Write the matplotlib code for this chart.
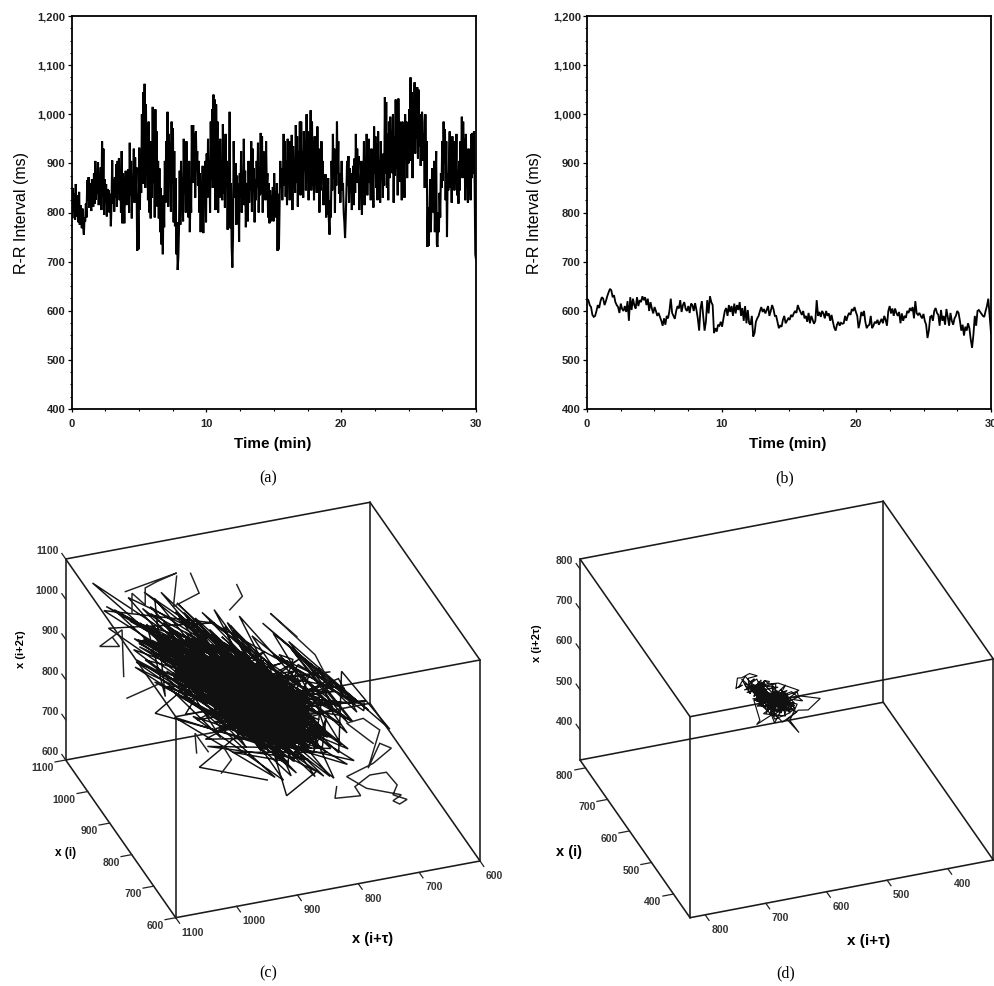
import numpy as np
import matplotlib
matplotlib.use("Agg")
import matplotlib.pyplot as plt
from matplotlib.ticker import MultipleLocator

plt.rcParams['font.family'] = ['Liberation Sans', 'DejaVu Sans']

# ---- data -----------------------------------------------------------------
rr_a = [
825,788,850,802,838,785,858,810,792,835,780,842,775,815,790,768,808,772,755,790,
782,818,790,866,825,872,810,860,835,803,868,830,812,880,818,905,826,872,838,902,
815,870,842,892,805,945,832,930,795,868,820,858,792,848,812,845,800,838,772,820,
906,818,868,802,872,830,898,812,905,838,910,825,885,800,925,778,880,832,778,850,
885,815,862,830,888,800,942,835,905,788,872,838,930,820,912,845,892,722,838,725,
932,806,890,840,1000,858,1045,905,1062,850,1020,880,960,825,985,800,905,788,945,830,
1015,860,975,790,1010,835,965,812,905,788,890,760,850,735,800,715,835,770,905,820,
945,860,1005,812,960,880,940,802,985,860,972,780,925,772,870,715,780,683,710,770,
885,775,905,810,848,782,950,838,920,800,945,825,880,790,905,760,850,800,978,860,
978,872,960,830,965,890,925,855,905,800,880,760,862,805,895,758,872,820,905,780,
920,830,950,845,905,800,985,868,1010,850,1040,880,1030,805,1020,895,985,800,945,830,
950,850,905,825,980,838,935,810,960,865,905,765,885,840,1005,768,860,730,688,750,
945,845,830,900,775,875,812,860,740,880,830,925,800,870,820,950,815,885,770,850,
860,782,905,820,885,845,945,802,930,862,890,780,868,825,905,850,942,800,880,835,
962,838,955,800,925,870,910,825,945,852,880,790,860,778,845,782,835,800,852,782,
880,805,840,790,860,722,838,725,812,905,850,890,825,870,960,855,945,832,905,815,
950,860,915,825,945,880,958,805,935,865,900,840,978,860,955,812,925,870,985,835,
985,860,925,830,965,885,945,845,1000,875,930,825,965,870,1008,845,985,855,945,825,
955,870,905,840,975,860,930,800,895,845,945,872,905,815,860,820,878,790,852,795,
870,785,755,825,790,905,845,960,870,930,800,925,855,985,880,945,838,880,820,860,
905,845,860,800,780,748,790,840,905,855,915,820,890,840,880,805,860,895,815,910,
840,960,860,930,880,915,805,870,835,905,795,890,850,945,815,880,840,960,835,925,
950,860,905,825,930,845,885,810,975,880,955,850,940,825,965,845,905,820,945,870,
905,830,920,855,1035,880,1025,850,960,825,985,870,995,905,965,880,1000,820,955,875,
1030,890,960,835,1032,915,985,862,940,825,985,890,950,830,1000,905,985,870,960,900,
1010,930,1075,905,1045,870,1030,950,1065,920,1040,950,1055,910,1050,935,1000,895,970,1005,
985,905,960,850,1000,880,945,730,810,732,790,868,760,820,890,870,800,905,760,850,
925,735,730,800,760,840,790,880,850,945,865,985,900,970,825,945,750,880,845,905,
965,850,905,820,955,860,945,845,930,870,960,835,885,818,905,845,945,880,995,870,
985,905,950,825,960,870,880,820,930,860,905,825,960,870,962,880,965,860,715,705,
]
rr_b = [
625,622,612,608,592,588,590,600,612,606,
620,628,625,612,620,630,638,645,642,628,
632,618,612,608,596,615,604,600,610,598,
620,580,628,602,625,612,605,628,610,622,
618,630,622,628,612,625,600,618,605,595,
608,600,590,596,588,580,570,585,572,590,
585,600,625,596,590,584,600,610,605,622,
598,612,618,604,600,610,596,615,612,600,
616,602,585,560,605,620,590,560,578,622,
595,630,618,612,555,565,558,572,570,578,
568,585,600,606,590,612,598,610,590,615,
595,612,602,618,590,606,580,610,575,602,
575,572,590,548,555,578,585,590,600,608,
598,604,595,602,610,590,600,612,604,590,
590,578,565,570,568,582,590,575,580,585,
582,592,588,595,600,596,612,604,598,592,
600,585,590,578,596,575,590,582,574,580,
622,590,598,588,600,595,585,600,590,595,
580,592,578,566,560,572,578,570,576,574,
575,590,580,590,596,592,604,600,608,598,
590,565,578,598,590,600,578,565,570,572,
590,565,570,578,575,582,572,578,584,575,
590,582,570,600,610,595,605,590,605,596,
590,598,575,595,580,590,586,600,596,606,
600,608,585,620,595,592,596,590,585,594,
580,572,545,560,588,590,580,600,606,596,
592,570,602,580,590,572,604,588,570,596,
580,572,585,590,600,596,580,560,572,550,
568,560,575,565,542,525,552,590,570,600,
602,598,594,590,588,600,610,625,590,555,
]
# outer excursions of trajectory (c); None separates runs
tail_c_i = [773,775,744,751,733,713,700,705,688,697,705,695,737,761,729,707,721,735,721,741,761,729,None,
            1026,986,None,1030,1032,1059,1035,1043,None,
            1028,1066,1050,1054,1004,1020,1020,None,
            1069,1019,970,1066,None,
            967,947,902,None,912,900,910,None,942,944,928,None,
            821,853,799,783]
tail_c_t = [773,775,744,751,733,713,700,705,688,697,705,695,737,761,729,707,721,735,721,741,761,729,None,
            1026,986,None,1030,1032,1059,1035,1043,None,
            1028,930,968,986,1004,1020,1020,None,
            906,910,970,930,None,
            867,865,902,None,912,900,910,None,942,944,928,None,
            821,853,799,783]
tail_c_z = [698,668,690,709,747,764,739,712,709,693,697,717,712,729,778,827,832,763,865,884,862,828,None,
            791,848,None,843,958,903,915,932,None,
            1055,1044,1046,1032,1034,1055,1005,None,
            1034,1025,1047,1036,None,
            1075,1061,1073,None,662,701,729,None,697,745,707,None,
            1047,1089,1013,958]
duration_min = 30
y_ticks = [400, 500, 600, 700, 800, 900, 1000, 1100, 1200]
y_tick_labels = ['400', '500', '600', '700', '800', '900', '1,000', '1,100', '1,200']
x_ticks = [0, 10, 20, 30]
cube_c_ticks = [600, 700, 800, 900, 1000, 1100]
cube_d_ticks = [400, 500, 600, 700, 800]
cube_c_range = (600, 1100)
cube_d_range = (325, 825)

W, H = 995, 986
fig = plt.figure(figsize=(W / 100, H / 100), dpi=100, facecolor='white')


def add_px_axes(left, top, right, bottom):
    return fig.add_axes([left / W, 1 - bottom / H, (right - left) / W, (bottom - top) / H])


def series_panel(box, values, caption, cap_x, lw, ylabel_x):
    ax = add_px_axes(*box)
    t = np.arange(len(values)) * duration_min / (len(values) - 1)
    ax.plot(t, values, color='black', lw=lw, solid_joinstyle='miter', clip_on=True)
    ax.set_xlim(0, duration_min)
    ax.set_ylim(400, 1200)
    ax.set_xticks(x_ticks)
    ax.set_yticks(y_ticks)
    ax.set_yticklabels(y_tick_labels)
    ax.xaxis.set_minor_locator(MultipleLocator(2.5))
    ax.yaxis.set_minor_locator(MultipleLocator(25))
    ax.tick_params(axis='y', which='major', length=3, width=0.9, labelsize=8, pad=1.5)
    ax.tick_params(axis='x', which='major', length=2.5, width=0.9, labelsize=8, pad=4.5)
    ax.tick_params(which='minor', length=1.3, width=0.8)
    for lab in ax.get_xticklabels() + ax.get_yticklabels():
        lab.set_fontweight('bold')
        lab.set_color('#222222')
    for s in ax.spines.values():
        s.set_linewidth(1.3)
    ax.set_xlabel('Time (min)', fontsize=11, fontweight='bold')
    ax.xaxis.set_label_coords(0.4975, -(444 - box[3]) / (box[3] - box[1]), ax.transAxes)
    ax.xaxis.label.set_verticalalignment('center')
    ax.set_ylabel('R-R Interval (ms)', fontsize=11.5)
    ax.yaxis.set_label_coords((ylabel_x - box[0]) / (box[2] - box[0]), 0.5, ax.transAxes)
    ax.yaxis.label.set_verticalalignment('center')
    fig.text(cap_x / W, 1 - 478 / H, caption, family='Liberation Serif', fontsize=11.5,
             ha='center', va='center')


series_panel((71.7, 16, 476, 409), rr_a, '(a)', 268, 1.5, 21.5)
series_panel((587, 16, 991, 409.3), rr_b, '(b)', 785, 1.3, 535)

# overlay in pixel coordinates, used for the two affine-projected cubes
ov = fig.add_axes([0, 0, 1, 1])
ov.set_xlim(0, W)
ov.set_ylim(H, 0)
ov.axis('off')
ov.patch.set_alpha(0)


def cube_panel(values, value_range, ticks, origin, e_i, e_tau, e_z, caption, cap_x,
               z_lab, i_lab, tau_lab, i_size, tau_size, delay, traj_lw, extra=None):
    lo, hi = value_range
    span = hi - lo

    def project(xi, xt, xz):
        fi = (hi - np.asarray(xi, float)) / span
        ft = (hi - np.asarray(xt, float)) / span
        fz = (np.asarray(xz, float) - lo) / span
        px = origin[0] + fi * e_i[0] + ft * e_tau[0] + fz * e_z[0]
        py = origin[1] + fi * e_i[1] + ft * e_tau[1] + fz * e_z[1]
        return px, py

    # cube edges
    c = [(a, b, z) for z in (lo, hi) for a, b in ((hi, hi), (lo, hi), (lo, lo), (hi, lo))]
    edges = [(0, 1), (1, 2), (2, 3), (3, 0), (4, 5), (5, 6), (6, 7), (7, 4),
             (0, 4), (1, 5), (2, 6), (3, 7)]
    for a, b in edges:
        pa, pb = project(*c[a]), project(*c[b])
        ov.plot([pa[0], pb[0]], [pa[1], pb[1]], color='#1a1a1a', lw=1.15, solid_capstyle='round')

    tl = 0.035 * span
    for v in ticks:
        # z axis: rear-left vertical edge
        p0 = project(hi, hi, v)
        p1 = project(hi + tl, hi, v)
        ov.plot([p0[0], p1[0]], [p0[1], p1[1]], color='#222222', lw=0.9)
        ov.text(p0[0] - 7, p0[1] - 8, str(v), ha='right', va='center', fontsize=7.5,
                fontweight='bold', color='#333333')
        # x(i) axis: left floor edge
        p0 = project(v, hi, lo)
        p1 = project(v, hi + tl, lo)
        ov.plot([p0[0], p1[0]], [p0[1], p1[1]], color='#222222', lw=0.9)
        ov.text(p0[0] - 12, p0[1] + 8, str(v), ha='right', va='center', fontsize=7.5,
                fontweight='bold', color='#333333')
        # x(i+tau) axis: front floor edge
        p0 = project(lo, v, lo)
        p1 = project(lo - tl, v, lo)
        ov.plot([p0[0], p1[0]], [p0[1], p1[1]], color='#222222', lw=0.9)
        ov.text(p0[0] + 6, p0[1] + 15, str(v), ha='left', va='center', fontsize=7.5,
                fontweight='bold', color='#333333')

    # delay-embedded trajectory of the R-R series
    x = np.asarray(values, float)
    xi, xt, xz = x[:-2 * delay], x[delay:-delay], x[2 * delay:]
    px, py = project(xi, xt, xz)
    ov.plot(px, py, color='#111111', lw=traj_lw, solid_joinstyle='miter')
    if extra is not None:
        ex, ey = project(*[np.array(e, dtype=float) for e in extra])
        ov.plot(ex, ey, color='#222222', lw=traj_lw, solid_joinstyle='miter')

    ov.text(*z_lab, 'x (i+2τ)', rotation=90, ha='center', va='center', fontsize=8, fontweight='bold')
    ov.text(*i_lab, 'x (i)', ha='center', va='center', fontsize=i_size, fontweight='bold')
    ov.text(*tau_lab, 'x (i+τ)', ha='center', va='center', fontsize=tau_size, fontweight='bold')
    ov.text(cap_x, 973, caption, family='Liberation Serif', fontsize=11.5, ha='center', va='center')


# cube geometry: origin is the rear-left floor corner; e_i runs to the front corner,
# e_tau from there to the right corner, e_z is the vertical edge
cube_panel(rr_a, cube_c_range, cube_c_ticks, (65.7, 760), (110, 157.7), (304.3, -56.7), (0, -201),
           '(c)', 268, (21, 649), (66, 853), (373, 939), 8.5, 10.5, 6, 1.05,
           extra=(tail_c_i, tail_c_t, tail_c_z))
cube_panel(rr_b, cube_d_range, cube_d_ticks, (580, 760), (110, 157.7), (303.3, -57.7), (0, -201),
           '(d)', 786, (537, 643), (569, 852), (869, 941), 10.5, 11, 4, 0.85)

fig.savefig('out.png', dpi=100, facecolor='white')
